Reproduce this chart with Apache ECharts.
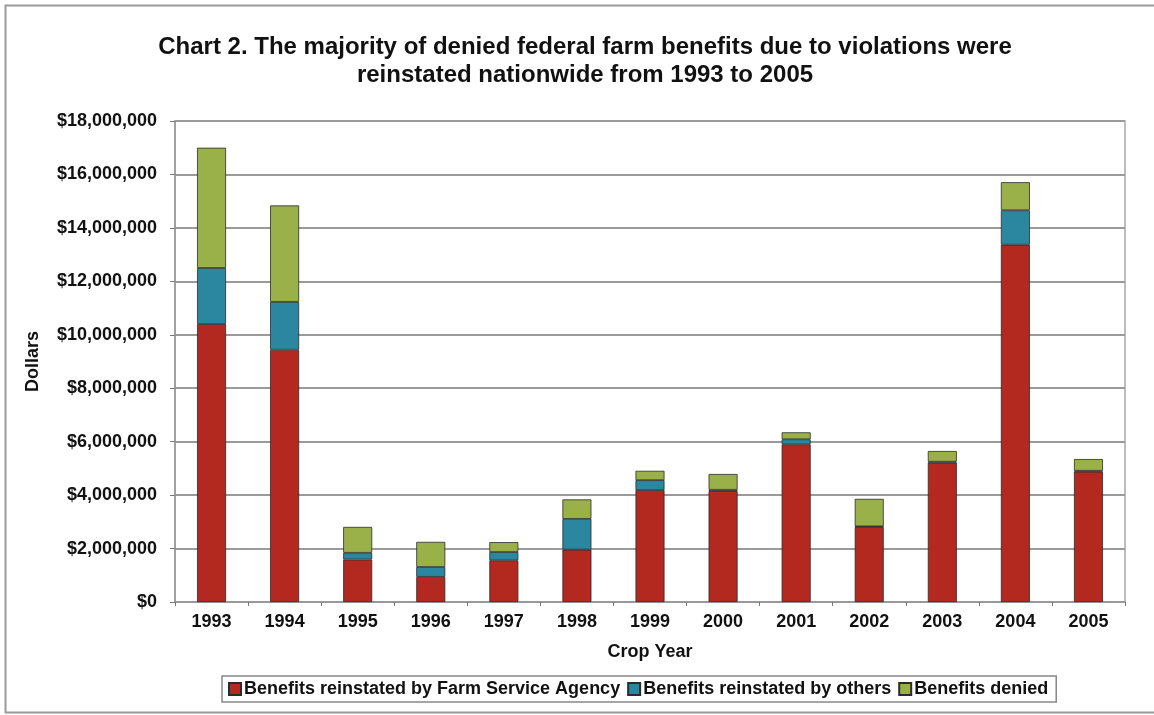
<!DOCTYPE html>
<html>
<head>
<meta charset="utf-8">
<script src="https://cdn.jsdelivr.net/npm/echarts@6/dist/echarts.min.js"></script>
<style>
  html, body { margin: 0; padding: 0; background: #fff; }
  #chart { width: 1154px; height: 715px; }
</style>
</head>
<body>
<div id="chart"></div>
<script>
// Crop years on the category axis
const years = ['1993', '1994', '1995', '1996', '1997', '1998', '1999',
               '2000', '2001', '2002', '2003', '2004', '2005'];

// Dollar amounts per crop year, stacked bottom to top
const reinstatedFSA = [10400000, 9440000, 1590000, 940000, 1560000, 1960000, 4190000,
                       4150000, 5900000, 2810000, 5220000, 13370000, 4880000];
const reinstatedOthers = [2100000, 1790000, 250000, 370000, 310000, 1150000, 370000,
                          50000, 190000, 20000, 30000, 1290000, 30000];
const denied = [4500000, 3610000, 970000, 940000, 370000, 730000, 350000,
                590000, 260000, 1030000, 400000, 1050000, 440000];

const seriesNames = ['Benefits reinstated by Farm Service Agency',
                     'Benefits reinstated by others',
                     'Benefits denied'];
const seriesColors = ['#B3281F', '#2A879F', '#9AB14A'];

const titleLines = ['Chart 2. The majority of denied federal farm benefits due to violations were',
                    'reinstated nationwide from 1993 to 2005'];

const FONT = '"Liberation Sans", Arial, Helvetica, sans-serif';
const LABEL_SIZE = 18;

const chart = echarts.init(document.getElementById('chart'), null, { renderer: 'canvas' });

function barSeries(name, data, color) {
  return {
    name: name,
    type: 'bar',
    stack: 'total',
    barWidth: 29,
    data: data,
    itemStyle: { color: color, borderColor: '#2b2b2b', borderWidth: 0.8 },
    emphasis: { disabled: true }
  };
}

chart.setOption({
  animation: false,
  backgroundColor: '#ffffff',
  graphic: [
    {
      type: 'rect',
      shape: { x: 5.5, y: 5.5, width: 1160, height: 707 },
      style: { fill: 'none', stroke: '#9a9a9a', lineWidth: 2 },
      silent: true, z: -1
    },
    {
      type: 'text',
      x: 585, y: 47,
      style: {
        text: titleLines[0], font: 'bold 24px ' + FONT, fill: '#111',
        textAlign: 'center', textVerticalAlign: 'middle'
      }
    },
    {
      type: 'text',
      x: 585, y: 75,
      style: {
        text: titleLines[1], font: 'bold 24px ' + FONT, fill: '#111',
        textAlign: 'center', textVerticalAlign: 'middle'
      }
    }
  ],
  grid: {
    left: 175, right: 29, top: 121, bottom: 113,
    show: true, borderColor: '#a8a8a8', borderWidth: 1.5, containLabel: false
  },
  legend: {
    data: seriesNames,
    left: 222, top: 676,
    orient: 'horizontal',
    itemWidth: 12, itemHeight: 12, itemGap: 7,
    icon: 'rect',
    borderColor: '#888', borderWidth: 1.5,
    padding: [4, 8, 4, 6],
    textStyle: { fontFamily: FONT, fontWeight: 'bold', fontSize: LABEL_SIZE, color: '#111', padding: [0, 0, 0, -2] }
  },
  xAxis: {
    type: 'category',
    data: years,
    name: 'Crop Year',
    nameLocation: 'middle',
    nameGap: 41,
    nameTextStyle: { fontFamily: FONT, fontWeight: 'bold', fontSize: LABEL_SIZE, color: '#111' },
    axisLine: { show: true, lineStyle: { color: '#999', width: 1.5 } },
    axisTick: { show: true, length: 4, lineStyle: { color: '#777' } },
    axisLabel: { margin: 11, fontFamily: FONT, fontWeight: 'bold', fontSize: LABEL_SIZE, color: '#111' }
  },
  yAxis: {
    type: 'value',
    min: 0, max: 18000000, interval: 2000000,
    name: 'Dollars',
    nameLocation: 'middle',
    nameGap: 133,
    nameTextStyle: { fontFamily: FONT, fontWeight: 'bold', fontSize: LABEL_SIZE, color: '#111' },
    axisLine: { show: true, lineStyle: { color: '#999', width: 1.5 } },
    axisTick: { show: true, length: 5, lineStyle: { color: '#777' } },
    splitLine: { show: true, lineStyle: { color: '#9a9a9a', width: 2 } },
    axisLabel: {
      margin: 18, fontFamily: FONT, fontWeight: 'bold', fontSize: LABEL_SIZE, color: '#111',
      formatter: v => '$' + v.toLocaleString('en-US')
    }
  },
  series: [
    barSeries(seriesNames[0], reinstatedFSA, seriesColors[0]),
    barSeries(seriesNames[1], reinstatedOthers, seriesColors[1]),
    barSeries(seriesNames[2], denied, seriesColors[2])
  ]
});
</script>
</body>
</html>
